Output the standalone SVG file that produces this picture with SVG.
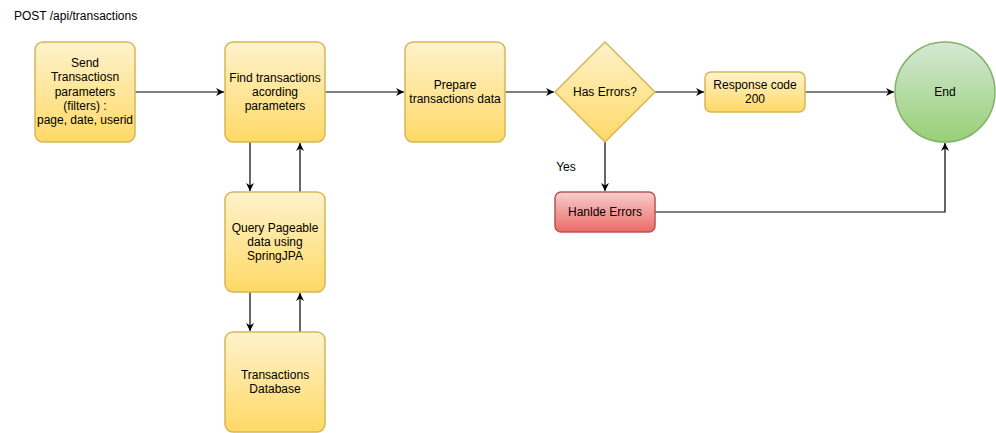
<svg xmlns="http://www.w3.org/2000/svg" width="996" height="433" viewBox="0 0 996 433">
<style>
text{font-family:"Liberation Sans",Arial,Helvetica,sans-serif;font-size:12px;fill:#000;text-anchor:middle}
.y{fill:url(#gy);stroke:#d6b656;stroke-width:1.5}
.r{fill:url(#gr);stroke:#b85450;stroke-width:1.5}
.g{fill:url(#gg);stroke:#82b366;stroke-width:1.5}
.c{fill:none;stroke:#000;stroke-width:1.2;marker-end:url(#a)}
</style>
<defs>
<linearGradient id="gy" x1="0" y1="0" x2="0" y2="1"><stop offset="0" stop-color="#fff2cc"/><stop offset="1" stop-color="#ffd966"/></linearGradient>
<linearGradient id="gr" x1="0" y1="0" x2="0" y2="1"><stop offset="0" stop-color="#f8cecc"/><stop offset="1" stop-color="#ea6b66"/></linearGradient>
<linearGradient id="gg" x1="0" y1="0" x2="0" y2="1"><stop offset="0" stop-color="#d5e8d4"/><stop offset="1" stop-color="#97d077"/></linearGradient>
<marker id="a" viewBox="0 0 10 10" refX="10" refY="5" markerWidth="8" markerHeight="8" markerUnits="userSpaceOnUse" orient="auto"><path d="M0,0 L10,5 L0,10 L3,5 Z" fill="#000"/></marker>
</defs>
<rect width="996" height="433" fill="#fff"/>
<text x="14" y="20" style="text-anchor:start">POST /api/transactions</text>
<g id="connectors">
<path class="c" d="M135,92 H224"/>
<path class="c" d="M325,92 H404"/>
<path class="c" d="M505,92 H554"/>
<path class="c" d="M655,92 H704"/>
<path class="c" d="M805,92 H894"/>
<path class="c" d="M605,142 V191"/>
<path class="c" d="M655,212 H945 V143"/>
<path class="c" d="M250,142 V191"/>
<path class="c" d="M300,192 V143"/>
<path class="c" d="M250,292 V331"/>
<path class="c" d="M300,332 V293"/>
<text x="566" y="171">Yes</text>
</g>
<g id="send">
<rect class="y" x="35" y="42" width="100" height="100" rx="8"/>
<text x="85" y="67">Send</text><text x="85" y="81">Transactiosn</text><text x="85" y="96">parameters</text><text x="85" y="110">(filters) :</text><text x="85" y="124">page, date, userid</text>
</g>
<g id="find">
<rect class="y" x="225" y="42" width="100" height="100" rx="8"/>
<text x="275" y="82">Find transactions</text><text x="275" y="96">acording</text><text x="275" y="110">parameters</text>
</g>
<g id="prepare">
<rect class="y" x="405" y="42" width="100" height="100" rx="8"/>
<text x="455" y="89">Prepare</text><text x="455" y="103">transactions data</text>
</g>
<g id="decision">
<path class="y" d="M605,42 L655,92 L605,142 L555,92 Z"/>
<text x="605" y="96">Has Errors?</text>
</g>
<g id="response">
<rect class="y" x="705" y="72" width="100" height="40" rx="6"/>
<text x="755" y="89">Response code</text><text x="755" y="103">200</text>
</g>
<g id="end">
<circle class="g" cx="945" cy="92" r="50"/>
<text x="945" y="96">End</text>
</g>
<g id="handle">
<rect class="r" x="555" y="192" width="100" height="40" rx="6"/>
<text x="605" y="216">Hanlde Errors</text>
</g>
<g id="query">
<rect class="y" x="225" y="192" width="100" height="100" rx="8"/>
<text x="275" y="232">Query Pageable</text><text x="275" y="246">data using</text><text x="275" y="260">SpringJPA</text>
</g>
<g id="db">
<rect class="y" x="225" y="332" width="100" height="100" rx="8"/>
<text x="275" y="379">Transactions</text><text x="275" y="393">Database</text>
</g>
</svg>
